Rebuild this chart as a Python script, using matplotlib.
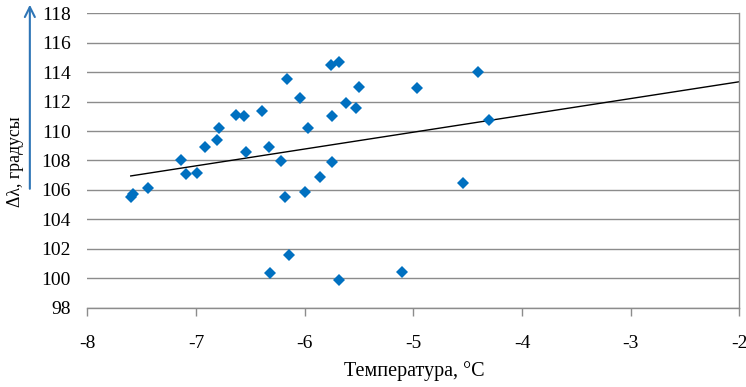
import numpy as np
import matplotlib.pyplot as plt

plt.rcParams['font.family'] = ['Liberation Serif', 'DejaVu Serif']

# measured points (temperature, delta lambda)
temp = [-7.60, -7.58, -7.44, -7.14, -7.09, -6.99, -6.92, -6.81, -6.79,
        -6.63, -6.56, -6.54, -6.39, -6.33, -6.32, -6.22, -6.18, -6.16,
        -6.14, -6.04, -6.00, -5.97, -5.86, -5.76, -5.75, -5.75, -5.68,
        -5.68, -5.62, -5.53, -5.50, -5.10, -4.97, -4.54, -4.40, -4.30]
dlam = [105.5, 105.7, 106.1, 108.0, 107.06, 107.13, 108.94, 109.41, 110.24,
        111.1, 111.04, 108.58, 111.38, 108.89, 100.37, 107.99, 105.5, 113.57,
        101.57, 112.26, 105.84, 110.18, 106.9, 114.47, 110.99, 107.92, 114.72,
        99.9, 111.94, 111.56, 112.96, 100.41, 112.92, 106.45, 114.0, 110.77]

# linear trendline
trend_x = [-7.6, -2.0]
trend_y = [106.95, 113.35]

xticks = [-8, -7, -6, -5, -4, -3, -2]
yticks = np.arange(98, 119, 2)

fig = plt.figure(figsize=(7.46, 3.87), dpi=100)
ax = fig.add_axes([0.117, 0.205, 0.874, 0.7606])

ax.plot(temp, dlam, 'D', color='#0070C0', ms=6.5, mew=0, zorder=3)
ax.plot(trend_x, trend_y, color='black', lw=1.0, zorder=2)

ax.set_xlim(-8, -2)
ax.set_ylim(98, 118)
ax.set_xticks(xticks)
ax.set_yticks(yticks)
ax.set_xticklabels([str(t) for t in xticks])
ax.grid(axis='y', color='#8c8c8c', lw=1.0)
ax.set_axisbelow(True)

for s in ['top', 'left']:
    ax.spines[s].set_visible(False)
for s in ['bottom', 'right']:
    ax.spines[s].set_color('#8c8c8c')
    ax.spines[s].set_linewidth(1.0)

ax.tick_params(axis='y', length=0, pad=12, labelsize=14)
ax.tick_params(axis='x', length=6, width=1.0, color='#8c8c8c', pad=14, labelsize=14)

fig.text(0.555, 0.04, 'Температура, °С', ha='center', va='center', fontsize=14.5)
fig.text(0.021, 0.582, 'Δλ, градусы', rotation=90, ha='center', va='center', fontsize=12.8)

# blue arrow next to the y label
ax.annotate('', xy=(0.040, 0.995), xytext=(0.040, 0.505),
            xycoords='figure fraction', textcoords='figure fraction',
            arrowprops=dict(arrowstyle='->', color='#2E75B6', lw=1.5,
                            mutation_scale=18))

fig.savefig('out.png', dpi=100)
